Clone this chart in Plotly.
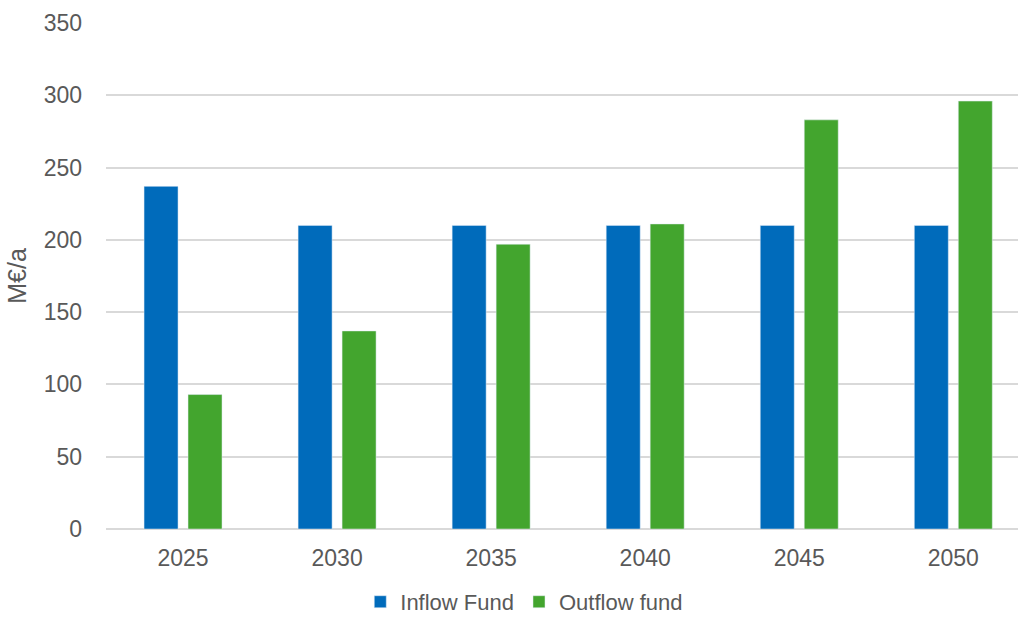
import plotly.graph_objects as go

years = ["2025", "2030", "2035", "2040", "2045", "2050"]
inflow = [237, 210, 210, 210, 210, 210]
outflow = [93, 137, 197, 211, 283, 296]
y_ticks = [0, 50, 100, 150, 200, 250, 300, 350]

FONT = "Liberation Sans, Arial, sans-serif"
GREY = "#595959"

fig = go.Figure()
fig.add_trace(go.Bar(x=years, y=inflow, name="Inflow Fund", marker_color="#006BBB"))
fig.add_trace(go.Bar(x=years, y=outflow, name="Outflow fund", marker_color="#43A52E"))

fig.update_layout(
    width=1018, height=618,
    margin=dict(l=106, r=0, t=23, b=89),
    paper_bgcolor="white", plot_bgcolor="white",
    barmode="group", bargap=0.429, bargroupgap=0.227,
    font=dict(family=FONT, size=23, color=GREY),
    showlegend=True,
    legend=dict(orientation="h", xref="container", yref="container",
                x=0.515, xanchor="center", y=0.026, yanchor="middle",
                font=dict(size=22, color=GREY), itemwidth=30,
                traceorder="normal"),
    xaxis=dict(range=[-0.5, 5.42], showgrid=False, showline=False,
               ticks="", ticklabelstandoff=13, tickfont=dict(size=23, color=GREY)),
    yaxis=dict(range=[0, 350], tickvals=y_ticks, showgrid=True,
               gridcolor="#D9D9D9", gridwidth=1.5, zeroline=True,
               zerolinecolor="#D9D9D9", zerolinewidth=1.5, showline=False,
               ticks="", ticklabelstandoff=23, tickfont=dict(size=23, color=GREY),
               title=dict(text="M€/a", font=dict(size=25, color=GREY), standoff=9)),
)

fig.write_html("out.html")
